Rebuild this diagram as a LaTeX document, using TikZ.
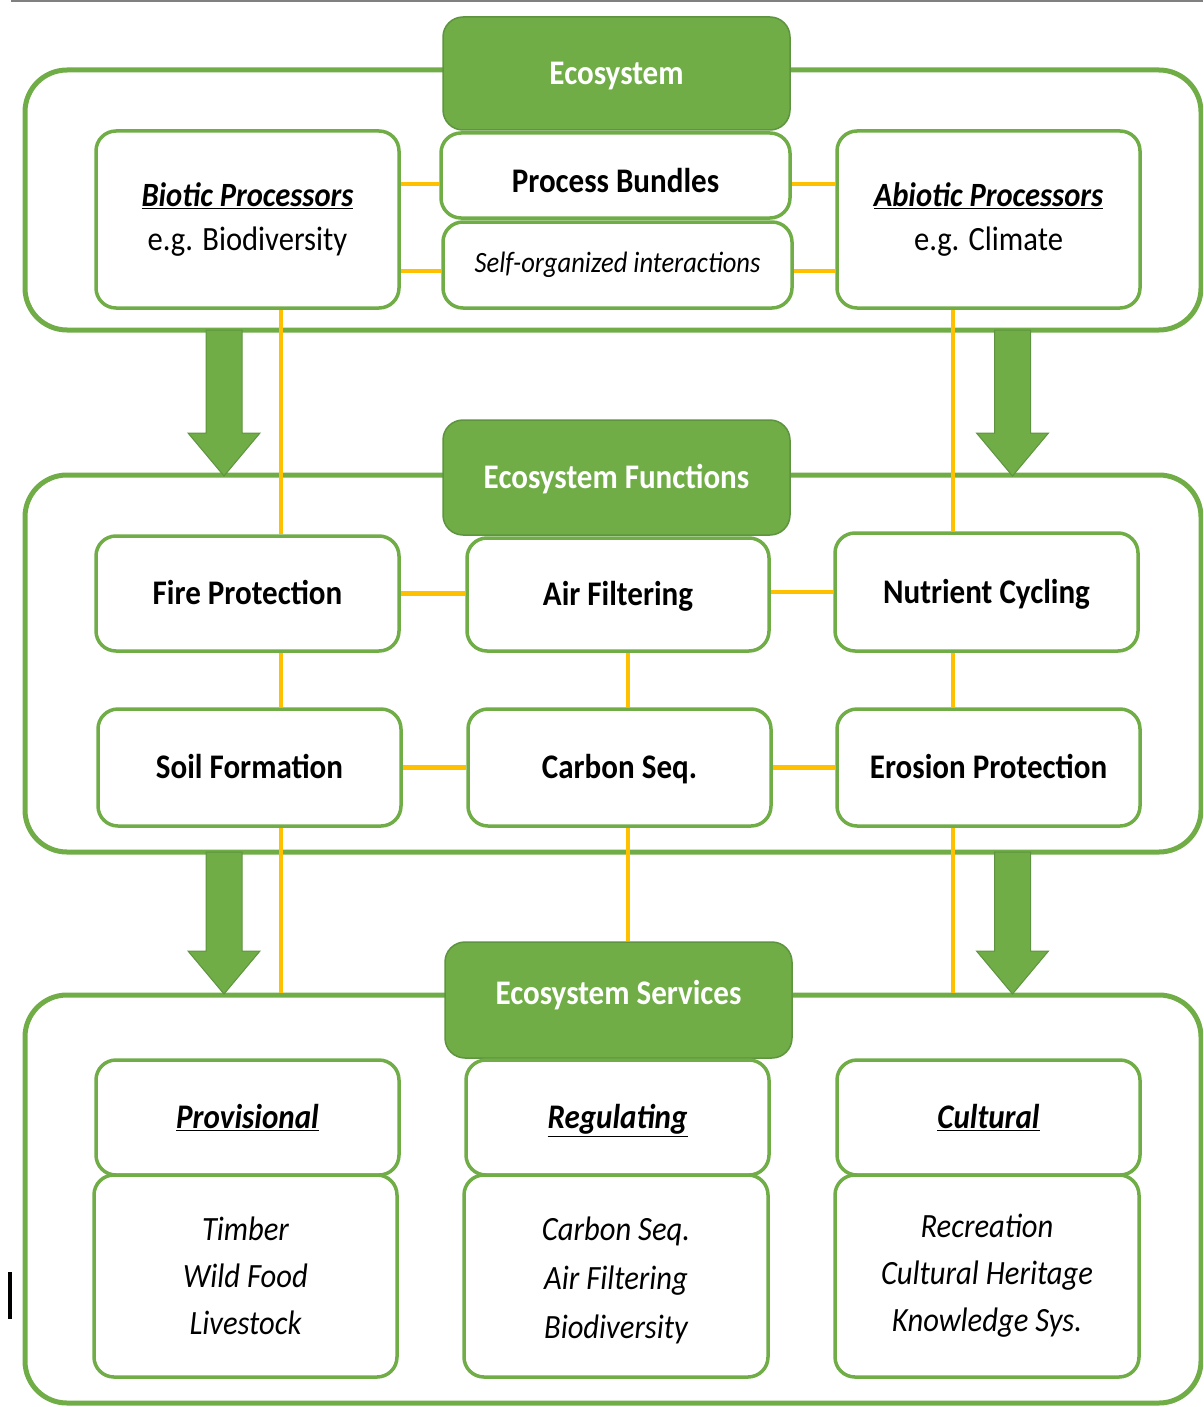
\documentclass[tikz,border=0pt]{standalone}
\usepackage{fontspec}
\setmainfont{Carlito}[FakeStretch=0.9]
\usetikzlibrary{calc}
\definecolor{grn}{HTML}{70AD47}
\definecolor{grnd}{HTML}{5E9440}
\definecolor{gold}{HTML}{FFC000}
\tikzset{
  frame/.style={draw=grn, line width=5pt, rounded corners=42pt, inner sep=0pt},
  box/.style={draw=grn, line width=3.5pt, fill=white, rounded corners=20pt, align=center, inner sep=0pt,
    font=\fontsize{34.5}{40}\selectfont\bfseries},
  one/.style={text height=22pt, text depth=0pt},
  hdr/.style={draw=grnd, line width=1.5pt, fill=grn, rounded corners=20pt, text=white, inner sep=0pt,
    font=\fontsize{34.5}{40}\selectfont\bfseries, one},
  link/.style={draw=gold, line width=4.5pt},
  bigarrow/.style={fill=grn, draw=grnd, line width=1pt},
}
\newcommand{\downarrowshape}[4]{% x center, top, head base, tip
  \filldraw[bigarrow] (#1-18,#2) -- (#1+18,#2) -- (#1+18,#3) -- (#1+36,#3) -- (#1,#4) -- (#1-36,#3) -- (#1-18,#3) -- cycle;}
\begin{document}
\begin{tikzpicture}[x=1pt,y=-1pt]
\useasboundingbox (0,0) rectangle (1203,1407);
\clip (0,0) rectangle (1203,1407);
\fill[white] (0,0) rectangle (1203,1407);
\draw[gray, line width=2pt] (11,1) -- (1203,1);
\fill[black] (8,1272) rectangle (12,1319);

% frames
\node[frame, minimum width=1176pt, minimum height=260pt] (fA) at (613,200) {};
\node[frame, minimum width=1176pt, minimum height=377pt] (fB) at (613,663.5) {};
\node[frame, minimum width=1176pt, minimum height=408pt] (fC) at (613,1199) {};

% big arrows
\downarrowshape{224}{330}{433}{476}
\downarrowshape{1012.5}{330}{433}{476}
\downarrowshape{224}{852}{951}{994}
\downarrowshape{1012.5}{852}{951}{994}

% top level
\node[hdr, minimum width=347pt, minimum height=113pt] (eco) at (616.5,73.5) {Ecosystem};
\node[box, one, text height=34pt, minimum width=349pt, minimum height=85pt] (proc) at (615.5,175.5) {Process Bundles};
\node[box, minimum width=349pt, minimum height=86pt, font=\fontsize{29.5}{36}\selectfont\itshape] (self) at (617.5,265) {Self-organized interactions};
\node[box, minimum width=303pt, minimum height=177pt, font=\fontsize{34}{44}\selectfont] (bio) at (247.5,219.5)
  {\textbf{\textit{\underline{Biotic Processors}}}\\e.g. Biodiversity};
\node[box, minimum width=303pt, minimum height=177pt, font=\fontsize{34}{44}\selectfont] (abio) at (988.5,219.5)
  {\textbf{\textit{\underline{Abiotic Processors}}}\\e.g. Climate};

% functions
\node[hdr, minimum width=347pt, minimum height=115pt] (fun) at (616.5,477.5) {Ecosystem Functions};
\node[box, one, minimum width=303pt, minimum height=115pt] (fire) at (247.5,593.5) {Fire Protection};
\node[box, one, minimum width=302pt, minimum height=113pt] (air) at (618,594.5) {Air Filtering};
\node[box, one, minimum width=303pt, minimum height=118pt] (nutr) at (986.5,592) {Nutrient Cycling};
\node[box, one, minimum width=303pt, minimum height=117pt] (soil) at (249.5,767.5) {Soil Formation};
\node[box, one, minimum width=303pt, minimum height=117pt] (carb) at (619.5,767.5) {Carbon Seq.};
\node[box, one, minimum width=303pt, minimum height=117pt] (eros) at (988.5,767.5) {Erosion Protection};

% services
\node[hdr, text depth=14pt, minimum width=347pt, minimum height=116pt] (serv) at (618.5,1000) {Ecosystem Services};
\node[box, one, minimum width=303pt, minimum height=115pt, font=\fontsize{34.5}{40}\selectfont\bfseries\itshape] (prov) at (247.5,1117.5) {\underline{Provisional}};
\node[box, one, minimum width=303pt, minimum height=115pt, font=\fontsize{34.5}{40}\selectfont\bfseries\itshape] (reg) at (617.5,1117.5) {\underline{Regulating}};
\node[box, one, minimum width=303pt, minimum height=115pt, font=\fontsize{34.5}{40}\selectfont\bfseries\itshape] (cult) at (988.5,1117.5) {\underline{Cultural}};
\node[box, minimum width=303pt, minimum height=202pt, font=\fontsize{34}{47}\selectfont\itshape] (provc) at (245.5,1276) {Timber\\Wild Food\\Livestock};
\node[box, minimum width=304pt, minimum height=202pt, font=\fontsize{34}{49}\selectfont\itshape] (regc) at (616,1276) {\rule{0pt}{32pt}Carbon Seq.\\Air Filtering\\Biodiversity};
\node[box, minimum width=304pt, minimum height=202pt, font=\fontsize{34}{47}\selectfont\itshape] (cultc) at (987,1276) {Recreation\\Cultural Heritage\\Knowledge Sys.};

% gold links
\draw[link] ([yshift=35.5pt]bio.east) -- ([yshift=35.5pt]bio.east -| proc.west);
\draw[link] ([yshift=-51.5pt]bio.east) -- ([yshift=-51.5pt]bio.east -| self.west);
\draw[link] ([yshift=35.5pt]abio.west) -- ([yshift=35.5pt]abio.west -| proc.east);
\draw[link] ([yshift=-51.5pt]abio.west) -- ([yshift=-51.5pt]abio.west -| self.east);
\draw[link] ([xshift=33.5pt]bio.south) -- ([xshift=33.5pt]bio.south |- fire.north);
\draw[link] ([xshift=-35.5pt]abio.south) -- ([xshift=-35.5pt]abio.south |- nutr.north);
\draw[link] (fire.east) -- (fire.east -| air.west);
\draw[link] (air.east |- nutr.west) -- (nutr.west);
\draw[link] (soil.east) -- (soil.east -| carb.west);
\draw[link] (carb.east) -- (carb.east -| eros.west);
\draw[link] ([xshift=33.5pt]fire.south) -- ([xshift=33.5pt]fire.south |- soil.north);
\draw[link] ([xshift=10pt]air.south) -- ([xshift=10pt]air.south |- carb.north);
\draw[link] ([xshift=-33.5pt]nutr.south) -- ([xshift=-33.5pt]nutr.south |- eros.north);
\draw[link] ([xshift=31.5pt]soil.south) -- ([xshift=31.5pt]soil.south |- fC.north);
\draw[link] ([xshift=8.5pt]carb.south) -- ([xshift=8.5pt]carb.south |- serv.north);
\draw[link] ([xshift=-35.5pt]eros.south) -- ([xshift=-35.5pt]eros.south |- fC.north);
\end{tikzpicture}
\end{document}
